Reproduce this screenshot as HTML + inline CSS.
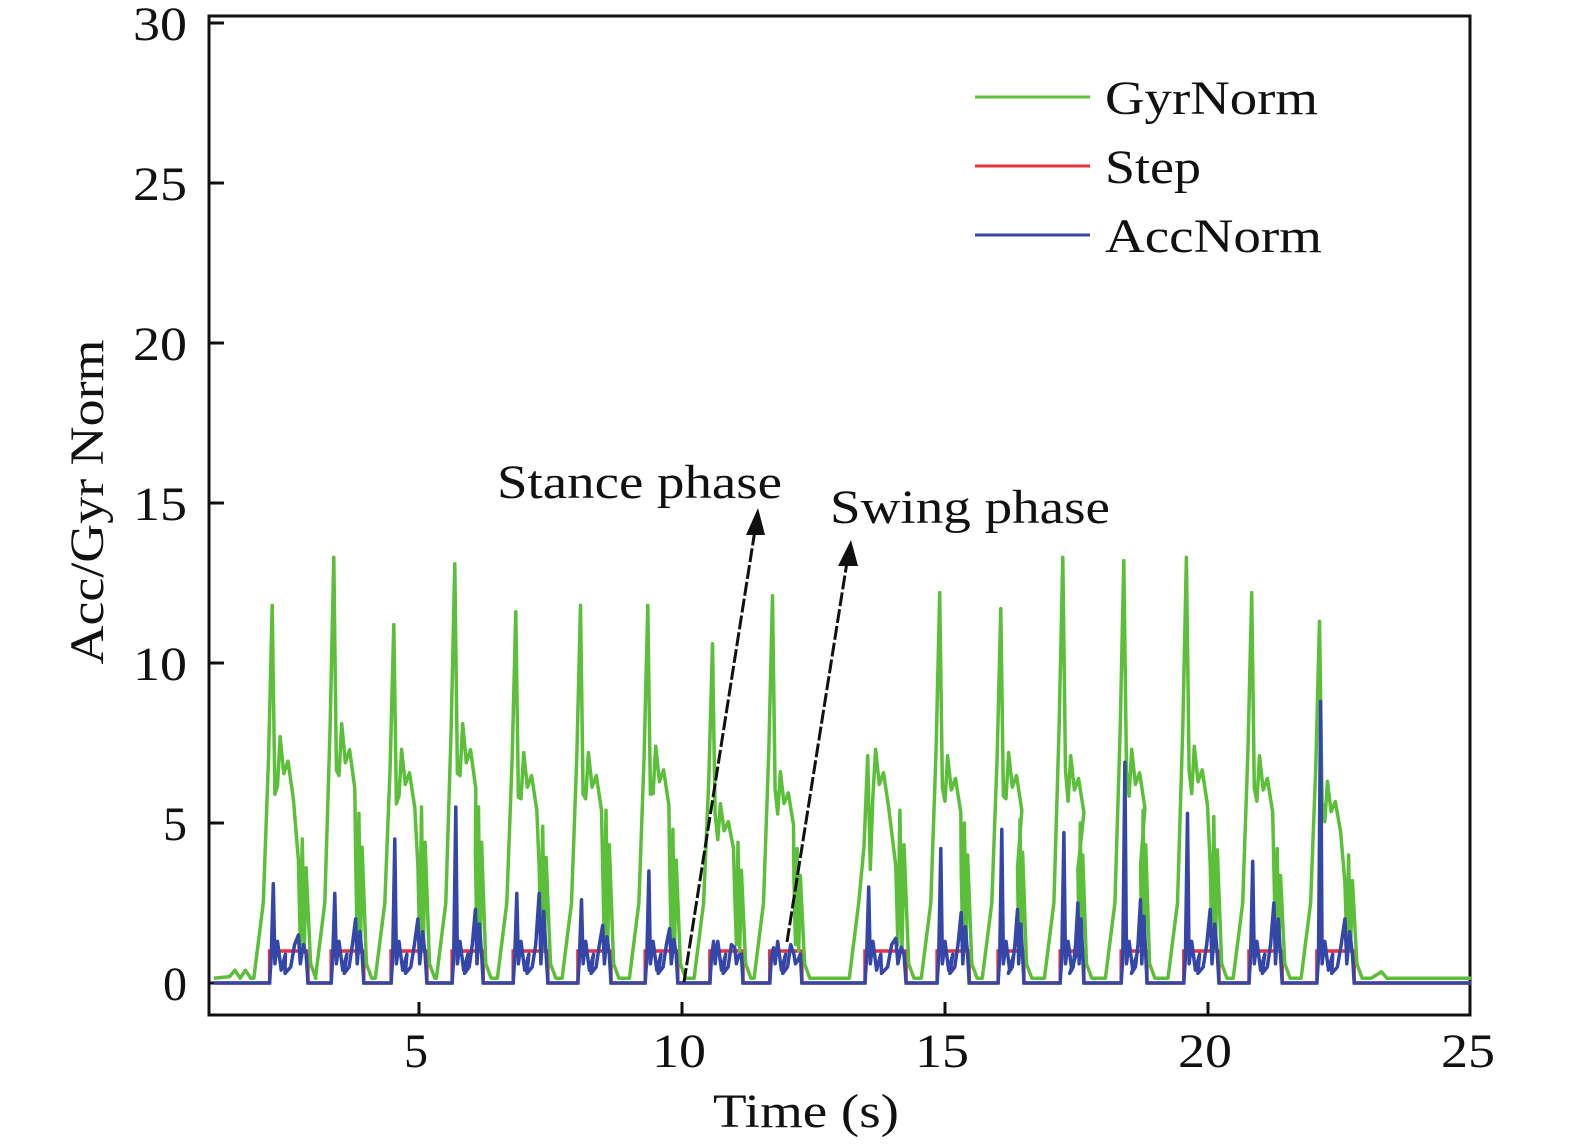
<!DOCTYPE html>
<html><head><meta charset="utf-8"><style>
body{margin:0;background:#fff}
svg{display:block}
text{font-family:"Liberation Serif",serif;fill:#111}
</style></head><body>
<svg id="chart" width="1575" height="1148" viewBox="0 0 1575 1148" xmlns="http://www.w3.org/2000/svg">
<rect x="209" y="16" width="1261" height="999" fill="#fff" stroke="#111" stroke-width="3"/>
<g id="yticks"></g>
<g id="xticks"></g>
<g id="series"></g>
<text x="103" y="502" font-size="48" text-anchor="middle" textLength="325" lengthAdjust="spacingAndGlyphs" transform="rotate(-90 103 502)">Acc/Gyr Norm</text>
<text x="713" y="1127" font-size="48" textLength="186" lengthAdjust="spacingAndGlyphs">Time (s)</text>
<g>
<line x1="975" y1="97" x2="1090" y2="97" stroke="#5cbf3a" stroke-width="3"/>
<text x="1105" y="114" font-size="48" textLength="213" lengthAdjust="spacingAndGlyphs">GyrNorm</text>
<line x1="975" y1="166" x2="1090" y2="166" stroke="#e8323c" stroke-width="3"/>
<text x="1105" y="183" font-size="48" textLength="96" lengthAdjust="spacingAndGlyphs">Step</text>
<line x1="975" y1="235" x2="1090" y2="235" stroke="#3447a8" stroke-width="3"/>
<text x="1105" y="252" font-size="48" textLength="217" lengthAdjust="spacingAndGlyphs">AccNorm</text>
</g>
<g>
<text x="497" y="498" font-size="48" textLength="285" lengthAdjust="spacingAndGlyphs">Stance phase</text>
<text x="830" y="523" font-size="48" textLength="280" lengthAdjust="spacingAndGlyphs">Swing phase</text>
<line x1="684" y1="982" x2="755" y2="530" stroke="#111" stroke-width="3" stroke-dasharray="14 3"/>
<polygon points="758,508 746,535 765,535" fill="#111"/>
<line x1="787" y1="942" x2="847" y2="562" stroke="#111" stroke-width="3" stroke-dasharray="14 3"/>
<polygon points="851,540 838,566 858,566" fill="#111"/>
</g>
</svg>
<script>
const yTicks=[0,5,10,15,20,25,30];
const xTicks=[5,10,15,20,25];
const stepStart=[2.16,3.33,4.47,5.63,6.79,8.02,9.30,10.53,11.67,13.48,14.85,16.01,17.19,18.35,19.54,20.78,22.07];
const stepEnd=[2.89,3.95,5.15,6.22,7.45,8.65,9.92,11.16,12.28,14.26,15.46,16.50,17.64,18.84,20.21,21.41,22.78];
const gyrPeak=[11.8,13.3,11.2,13.1,11.6,11.8,11.8,10.6,12.1,7.1,12.2,11.7,13.3,13.2,13.3,12.2,11.3];
const gyrSecond=[7.7,8.1,7.3,8.1,7.2,7.2,7.4,5.6,6.6,7.3,7.1,7.2,7.1,7.3,7.4,7.1,6.3];
const gyrEnd=[4.5,5.3,5.5,5.5,4.9,5.4,4.8,4.4,4.2,5.4,5.0,5.1,5.0,5.4,5.2,4.2,4.0];
const accPeak=[3.1,2.8,4.5,5.5,2.8,2.6,3.5,1.3,1.1,3.0,4.2,4.8,4.7,6.9,5.3,3.8,8.8];
const accEnd=[1.5,2.0,2.0,2.3,2.8,1.8,1.7,1.1,0.9,1.4,2.2,2.3,2.5,2.6,2.3,2.5,2.0];
const X=t=>419+(t-5)*52.6, Y=v=>983-v*32;
const NS="http://www.w3.org/2000/svg";
function mk(tag,attrs,parent){const e=document.createElementNS(NS,tag);for(const k in attrs)e.setAttribute(k,attrs[k]);parent.appendChild(e);return e;}
const yg=document.getElementById('yticks');
yTicks.forEach(v=>{
 const l=mk('line',{x1:209,x2:224,y1:Y(v),y2:Y(v),stroke:'#111','stroke-width':3},yg);
 
 
 const a={x:187,y:Y(v)+17,'font-size':48,'text-anchor':'end'};
 if(v>=10){a.textLength=54;a.lengthAdjust='spacingAndGlyphs';}
 const t=mk('text',a,yg);t.textContent=v;
 
 
});
const xg=document.getElementById('xticks');
xTicks.forEach(v=>{
 if(v<25){const l=mk('line',{x1:X(v),x2:X(v),y1:1002,y2:1015,stroke:'#111','stroke-width':3},xg);
 
 }
 const a={x:X(v)-3,y:1067,'font-size':48,'text-anchor':'middle'};
 if(v>=10){a.textLength=54;a.lengthAdjust='spacingAndGlyphs';}
 const t=mk('text',a,xg);t.textContent=v;
 
 
});
const sg=document.getElementById('series');
let g=[[1.1,0.15],[1.4,0.2],[1.5,0.4],[1.6,0.15],[1.7,0.4],[1.8,0.15]];
let r=[[1.1,0]],b=[[1.1,0]];
stepStart.forEach((s,i)=>{
 const e=stepEnd[i],d=e-s;
 g.push([s-0.3,0.15],[s-0.12,2.5],[s-0.02,gyrPeak[i]*0.6],[s+0.05,gyrPeak[i]],[s+0.1,gyrPeak[i]*0.5],[s+0.15,gyrSecond[i]*0.8],[s+0.2,gyrSecond[i]],[s+0.27,gyrSecond[i]*0.85],[s+0.35,gyrSecond[i]*0.9],[s+0.45,gyrSecond[i]*0.75],[s+d*0.75,gyrSecond[i]*0.5],[s+d*0.8,1.2],[s+d*0.85,gyrEnd[i]],[s+d*0.9,1.0],[s+d*0.95,gyrEnd[i]*0.8],[e+0.05,0.6],[e+0.15,0.15]);
 r.push([s,0],[s,1],[e,1],[e,0]);
 b.push([s,0],[s+0.03,0.8],[s+0.07,accPeak[i]],[s+0.1,0.6],[s+0.15,1.3],[s+0.22,0.4],[s+0.3,0.9],[s+d*0.4,0.3],[s+d*0.55,0.5],[s+d*0.65,1.2],[s+d*0.75,accEnd[i]],[s+d*0.8,0.6],[s+d*0.88,accEnd[i]*0.8],[s+d*0.95,0.9],[e,0]);
});
g.push([23.1,0.15],[23.3,0.35],[23.4,0.15],[25,0.15]);
r.push([25,0]);b.push([25,0]);
const pth=pts=>pts.map((p,k)=>(k?'L':'M')+X(p[0]).toFixed(1)+','+Y(p[1]).toFixed(1)).join('');
const pr=mk('path',{d:pth(r),fill:'none',stroke:'#e8323c','stroke-width':3.5},sg);


const pg=mk('path',{d:pth(g),fill:'none',stroke:'#5cbf3a','stroke-width':3.5,'stroke-linejoin':'round'},sg);


const pb=mk('path',{d:pth(b),fill:'none',stroke:'#3447a8','stroke-width':3.5,'stroke-linejoin':'round'},sg);


</script>
</body></html>
